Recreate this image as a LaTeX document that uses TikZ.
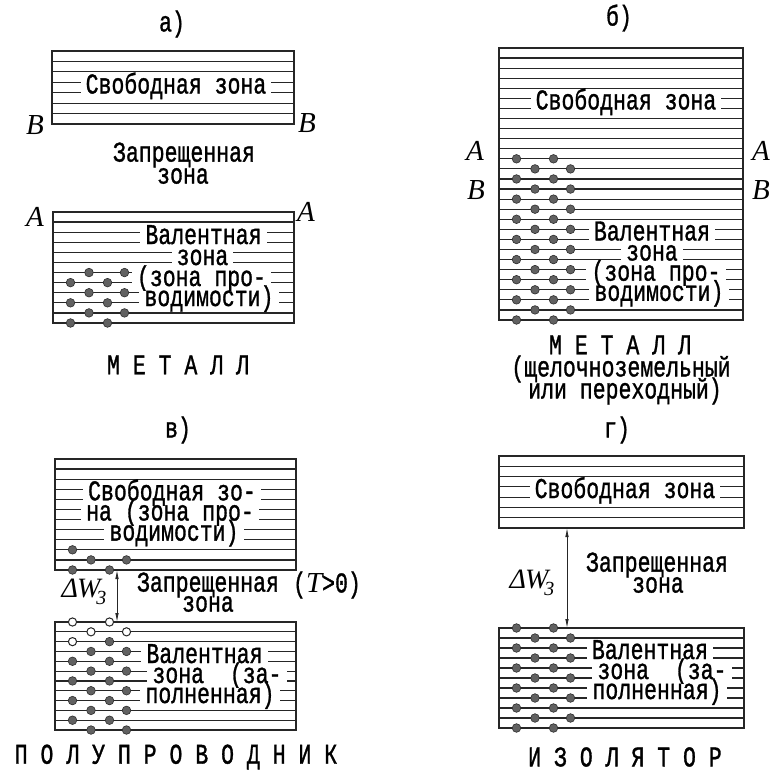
\documentclass[tikz,border=0pt]{standalone}
\usepackage{fontspec}
\usepackage{graphicx}
\usetikzlibrary{arrows.meta}
\newfontfamily\twf{Liberation Mono}[FakeBold=1.3]
\newfontfamily\itf{Liberation Serif}
\newcommand{\Tw}[1]{\scalebox{1}[1.33]{\twf\fontsize{21.5}{24}\selectfont #1}}
\newcommand{\It}[1]{{\itf\itshape\fontsize{29}{31}\selectfont #1}}
\newcommand{\DW}{{\itf\itshape\fontsize{28}{30}\selectfont Δ\kern-1pt W\kern-4pt\raisebox{-7pt}{\fontsize{20}{22}\selectfont 3}}}
\newcommand{\edot}[2]{\filldraw[el] (#1,#2) circle[radius=4.3pt];}
\newcommand{\hdot}[2]{\filldraw[hole] (#1,#2) circle[radius=4.1pt];}
\begin{document}
\begin{tikzpicture}[x=1pt,y=-1pt,
  band/.style={line width=1.2pt, draw=black!85},
  zt/.style={fill=white, inner xsep=5pt, inner ysep=0pt, text height=15pt, text depth=3pt},
  capt/.style={inner sep=0pt},
  el/.style={fill=black!62, draw=black!82, line width=0.6pt},
  hole/.style={fill=white, draw=black!85, line width=1pt},
  gap/.style={{Latex[length=9pt,width=3.5pt]}-{Latex[length=9pt,width=3.5pt]}, line width=0.8pt, draw=black!85}]
\fill[white] (0,0) rectangle (771,772);
\useasboundingbox (0,0) rectangle (771,772);

% ---------------- panel a ----------------
\foreach \i in {0,...,7} \draw[band] (52,{51+10.43*\i}) -- (294,{51+10.43*\i});
\draw[band] (52,51) rectangle (294,124);
\foreach \i in {0,...,11} \draw[band] (53,{212+10.09*\i}) -- (294,{212+10.09*\i});
\draw[band] (53,212) rectangle (294,323);
\node[capt] (la) at (172,24) {\Tw{а)}};
\node[zt] (a1) at (176,87.5) {\Tw{Свободная зона}};
\node[capt] (aB1) at (35,125) {\It{В}};
\node[capt] (aB2) at (307,123) {\It{В}};
\node[capt] (aZ1) at (184,155) {\Tw{Запрещенная}};
\node[capt] (aZ2) at (183,176) {\Tw{зона}};
\node[capt] (aA1) at (35,217) {\It{А}};
\node[capt] (aA2) at (306,212) {\It{А}};
\node[zt] (a2) at (203.5,238) {\Tw{Валентная}};
\node[zt] (a3) at (202.5,259) {\Tw{зона}};
\node[zt] (a4) at (201.5,280) {\Tw{(зона про-}};
\node[zt] (a5) at (209,300) {\Tw{водимости)}};
\foreach \i in {6,8,10} {\edot{89}{212+10.09*\i}\edot{124.5}{212+10.09*\i}}
\foreach \i in {7,9,11} {\edot{70.5}{212+10.09*\i}\edot{107.5}{212+10.09*\i}}
\node[capt] (aM) at (178,365) {\Tw{М Е Т А Л Л}};

% ---------------- panel b ----------------
\foreach \i in {0,...,27} \draw[band] (499,{48+10.074*\i}) -- (743,{48+10.074*\i});
\draw[band] (499,48) rectangle (743,320);
\node[capt] (lb) at (619,18) {\Tw{б)}};
\node[zt] (b1) at (626,103.4) {\Tw{Свободная зона}};
\node[capt] (bA1) at (475,151) {\It{А}};
\node[capt] (bA2) at (761,151) {\It{А}};
\node[capt] (bB1) at (476,190) {\It{В}};
\node[capt] (bB2) at (761,190) {\It{В}};
\node[zt] (b2) at (652,234.4) {\Tw{Валентная}};
\node[zt] (b3) at (652,254.5) {\Tw{зона}};
\node[zt] (b4) at (656,274.7) {\Tw{(зона про-}};
\node[zt] (b5) at (659,294.8) {\Tw{водимости)}};
\foreach \i in {11,13,...,27} {\edot{516.5}{48+10.074*\i}\edot{553.5}{48+10.074*\i}}
\foreach \i in {12,14,...,26} {\edot{535}{48+10.074*\i}\edot{570.5}{48+10.074*\i}}
\node[capt] (bM1) at (620,345) {\Tw{М Е Т А Л Л}};
\node[capt] (bM2) at (621,369) {\Tw{(щелочноземельный}};
\node[capt] (bM3) at (625,391) {\Tw{или переходный)}};

% ---------------- panel v ----------------
\foreach \i in {0,...,11} \draw[band] (55,{459+10.09*\i}) -- (296,{459+10.09*\i});
\draw[band] (55,459) rectangle (296,570);
\foreach \i in {0,...,11} \draw[band] (55,{622+9.82*\i}) -- (296,{622+9.82*\i});
\draw[band] (55,622) rectangle (296,730);
\node[capt] (lc) at (178,430) {\Tw{в)}};
\node[zt] (c1) at (172,494.3) {\Tw{Свободная зо-}};
\node[zt] (c2) at (170,514.5) {\Tw{на (зона про-}};
\node[zt] (c3) at (174,534.6) {\Tw{водимости)}};
\edot{72.5}{459+10.09*9}
\edot{91}{459+10.09*10}\edot{126.5}{459+10.09*10}
\edot{72.5}{570}\edot{109.5}{570}
\coordinate (cgt) at (117,570);
\coordinate (cgb) at (117,622);
\draw[gap] (cgt) -- (cgb);
\node[capt] (cW) at (84,592) {\DW};
\node[capt] (cZ1) at (208,585) {\Tw{Запрещенная}};
\node[capt] (cZ2) at (208,604) {\Tw{зона}};
\node[capt] (cT) at (327,585) {\Tw{(}\It{T}\Tw{>0)}};
\node[zt] (c4) at (204.5,657) {\Tw{Валентная}};
\node[zt] (c5) at (217,677) {\Tw{зона\ \ (за-}};
\node[zt] (c6) at (210,697) {\Tw{полненная)}};
\hdot{72.5}{622}\hdot{109.5}{622}
\hdot{91}{622+9.82}\hdot{126.5}{622+9.82}
\hdot{72.5}{622+9.82*2}\edot{109.5}{622+9.82*2}
\foreach \i in {3,5,...,11} {\edot{91}{622+9.82*\i}\edot{126.5}{622+9.82*\i}}
\foreach \i in {4,6,...,10} {\edot{72.5}{622+9.82*\i}\edot{109.5}{622+9.82*\i}}
\node[capt] (cP) at (176,757) {\Tw{П О Л У П Р О В О Д Н И К}};

% ---------------- panel g ----------------
\foreach \i in {0,...,7} \draw[band] (499,{456+10.29*\i}) -- (744,{456+10.29*\i});
\draw[band] (499,456) rectangle (744,528);
\foreach \i in {0,...,10} \draw[band] (499,{628+10*\i}) -- (744,{628+10*\i});
\draw[band] (499,628) rectangle (744,728);
\node[capt] (ld) at (617,430) {\Tw{г)}};
\node[zt] (d1) at (625,492) {\Tw{Свободная зона}};
\coordinate (dgt) at (567,528);
\coordinate (dgb) at (567,628);
\draw[gap] (dgt) -- (dgb);
\node[capt] (dW) at (532,583) {\DW};
\node[capt] (dZ1) at (657,565) {\Tw{Запрещенная}};
\node[capt] (dZ2) at (658,585) {\Tw{зона}};
\node[zt] (d2) at (650,653) {\Tw{Валентная}};
\node[zt] (d3) at (662,673) {\Tw{зона\ \ (за-}};
\node[zt] (d4) at (657,693) {\Tw{полненная)}};
\foreach \i in {0,2,...,10} {\edot{516.5}{628+10*\i}\edot{553.5}{628+10*\i}}
\foreach \i in {1,3,...,9} {\edot{535}{628+10*\i}\edot{570.5}{628+10*\i}}
\node[capt] (dI) at (625,757) {\Tw{И З О Л Я Т О Р}};
\end{tikzpicture}
\end{document}
